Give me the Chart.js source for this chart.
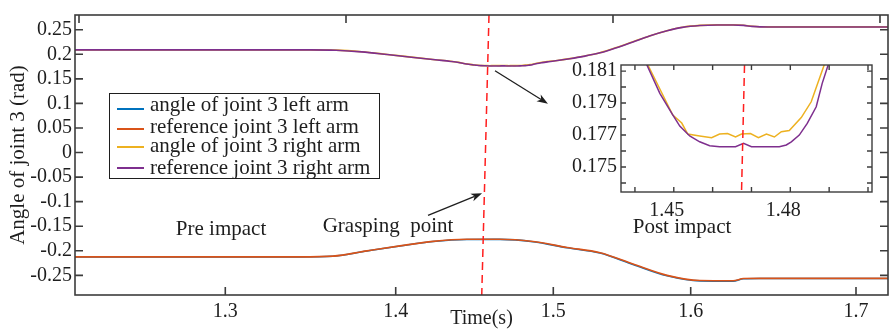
<!DOCTYPE html>
<html>
<head>
<meta charset="utf-8">
<script src="https://cdn.jsdelivr.net/npm/chart.js@4/dist/chart.umd.min.js"></script>
<style>
  body { margin: 0; background: #fff; }
  #wrap { position: relative; width: 889px; height: 335px; }
  #main { position: absolute; left: 0; top: 0; width: 889px; height: 335px; }
  #zoom { position: absolute; left: 540px; top: 40px; width: 345px; height: 190px; }
</style>
</head>
<body>
<div id="wrap">
  <canvas id="main" width="889" height="335"></canvas>
  <canvas id="zoom" width="345" height="190"></canvas>
</div>
<script>
const serif = "'Liberation Serif', 'Times New Roman', serif";
const ink = '#1e1e1e';

const seriesNames = ['angle of joint 3 left arm', 'reference joint 3 left arm',
                     'angle of joint 3 right arm', 'reference joint 3 right arm'];
const seriesColors = ['#0072BD', '#D95319', '#EDB120', '#7E2F8E'];

// left arm, joint 3 (rad) against time (s)
const leftTime = [1.2118, 1.3438, 1.3632, 1.3832, 1.4027, 1.4237, 1.4452, 1.4661, 1.4871,
                  1.5100, 1.5340, 1.5580, 1.5828, 1.6056, 1.6256, 1.6320, 1.6419, 1.7194];
const leftReference = [-0.2123, -0.2123, -0.2109, -0.2001, -0.1900, -0.1808, -0.1766, -0.1764, -0.1811,
                       -0.1932, -0.2040, -0.2270, -0.2500, -0.2605, -0.2610, -0.2565, -0.2561, -0.2561];
const leftAngle = [-0.2123, -0.2124, -0.2111, -0.2004, -0.1904, -0.1812, -0.1770, -0.1768, -0.1815,
                   -0.1938, -0.2047, -0.2278, -0.2508, -0.2613, -0.2617, -0.2570, -0.2564, -0.2563];

// right arm reference, dense around the impact
const rightRefTime = [1.2118, 1.3500, 1.3650, 1.3800, 1.3950, 1.4100, 1.4250, 1.4350, 1.4400,
  1.44308, 1.44641, 1.44949, 1.45154, 1.45410, 1.45667, 1.45923, 1.46179, 1.46590, 1.46795,
  1.47000, 1.47718, 1.47897, 1.48026, 1.48231, 1.48436, 1.48667, 1.48821, 1.48974,
  1.4930, 1.4970, 1.5030, 1.5120, 1.5220, 1.5340, 1.5460, 1.5580, 1.5700, 1.5828, 1.5940,
  1.6056, 1.6160, 1.6256, 1.6320, 1.6370, 1.6419, 1.6500, 1.7194];
const rightReference = [0.2090, 0.2090, 0.2083, 0.2050, 0.1995, 0.1940, 0.1888, 0.1855, 0.1834,
  0.18138, 0.17961, 0.17836, 0.17756, 0.17694, 0.17658, 0.17633, 0.17627, 0.17627, 0.17648,
  0.17627, 0.17627, 0.17638, 0.17658, 0.17700, 0.17773, 0.17877, 0.18023, 0.18138,
  0.1831, 0.1849, 0.1873, 0.1910, 0.1958, 0.2030, 0.2135, 0.2252, 0.2372, 0.2478, 0.2548,
  0.2586, 0.2597, 0.2597, 0.2588, 0.2568, 0.2558, 0.2557, 0.2557];

// right arm measured angle
const rightAngleTime = [1.2118, 1.3500, 1.3650, 1.3800, 1.3950, 1.4100, 1.4250, 1.4350, 1.4400,
  1.44333, 1.44590, 1.44974, 1.45205, 1.45359, 1.45667, 1.45974, 1.46179, 1.46385, 1.46590,
  1.46744, 1.46974, 1.47179, 1.47385, 1.47590, 1.47769, 1.47974, 1.48282, 1.48538, 1.48872,
  1.4920, 1.4960, 1.5030, 1.5120, 1.5220, 1.5340, 1.5460, 1.5580, 1.5700, 1.5828, 1.5940,
  1.6056, 1.6160, 1.6256, 1.6320, 1.6370, 1.6419, 1.6500, 1.7194];
const rightAngle = [0.2091, 0.2091, 0.2085, 0.2052, 0.1997, 0.1942, 0.1890, 0.1857, 0.1836,
  0.18138, 0.18013, 0.17825, 0.17775, 0.17706, 0.17694, 0.17683, 0.17706, 0.17709, 0.17688,
  0.17706, 0.17709, 0.17683, 0.17706, 0.17688, 0.17721, 0.17728, 0.17809, 0.17908, 0.18138,
  0.1833, 0.1852, 0.1875, 0.1912, 0.1960, 0.2032, 0.2137, 0.2254, 0.2374, 0.2480, 0.2550,
  0.2588, 0.2599, 0.2599, 0.2590, 0.2570, 0.2560, 0.2559, 0.2559];

// grasping instant, as drawn in each axes
const graspTimeMain = [1.4592, 1.4546];
const graspAngleMain = [0.28, -0.29];
const graspTimeZoom = [1.46821, 1.46744];
const graspAngleZoom = [0.18138, 0.17344];

// ticks
const timeTicks = [1.3, 1.4, 1.5, 1.6, 1.7];
const angleTicks = [-0.25, -0.2, -0.15, -0.1, -0.05, 0, 0.05, 0.1, 0.15, 0.2, 0.25];
const zoomTimeTicks = [1.44, 1.45, 1.46, 1.47, 1.48, 1.49, 1.50];
const zoomTimeLabels = [1.45, 1.48];
const zoomAngleTicks = [0.174, 0.175, 0.176, 0.177, 0.178, 0.179, 0.180, 0.181];
const zoomAngleLabels = [0.175, 0.177, 0.179, 0.181];

const pts = (xs, ys) => xs.map((x, i) => ({x: x, y: ys[i]}));
const near = (list, v) => list.some(l => Math.abs(l - v) < 1e-6);

// the time axis of the figure is not evenly spaced, so map it piecewise
const warpValues = [1.2118, 1.3, 1.4, 1.5, 1.6, 1.7, 1.7194];
const warpFractions = [0, 0.18487, 0.39447, 0.58831, 0.75732, 0.96064, 1];

function piecewise(v, xs, ys) {
  for (let i = 1; i < xs.length; i++) {
    if (v <= xs[i] || i === xs.length - 1) {
      return ys[i - 1] + (v - xs[i - 1]) * (ys[i] - ys[i - 1]) / (xs[i] - xs[i - 1]);
    }
  }
}

class WarpedTimeScale extends Chart.LinearScale {
  static id = 'warpedTime';
  static defaults = Chart.LinearScale.defaults;
  getPixelForValue(value) {
    return this.getPixelForDecimal(piecewise(value, warpValues, warpFractions));
  }
  getValueForPixel(pixel) {
    return piecewise(this.getDecimalForPixel(pixel), warpFractions, warpValues);
  }
}
Chart.register(WarpedTimeScale);

// box around the axes with inward ticks, MATLAB style
const axesBox = {
  id: 'axesBox',
  beforeDraw(chart, args, opts) {
    if (!opts.fill) return;
    const a = chart.chartArea, ctx = chart.ctx;
    ctx.save();
    ctx.fillStyle = opts.fill;
    ctx.fillRect(a.left, a.top, a.width, a.height);
    ctx.restore();
  },
  afterDraw(chart, args, opts) {
    const {ctx, chartArea: a, scales} = chart;
    const len = opts.tick;
    const bottom = scales.x, top = scales[opts.top], left = scales.y;
    ctx.save();
    ctx.strokeStyle = opts.color;
    ctx.lineWidth = opts.width;
    ctx.beginPath();
    bottom.ticks.forEach((t, i) => {
      const x = bottom.getPixelForTick(i);
      ctx.moveTo(x, a.bottom); ctx.lineTo(x, a.bottom - len);
    });
    top.ticks.forEach((t, i) => {
      const x = top.getPixelForTick(i);
      ctx.moveTo(x, a.top); ctx.lineTo(x, a.top + len);
    });
    left.ticks.forEach((t, i) => {
      const y = left.getPixelForTick(i);
      ctx.moveTo(a.left, y); ctx.lineTo(a.left + len, y);
      ctx.moveTo(a.right, y); ctx.lineTo(a.right - len, y);
    });
    ctx.stroke();
    ctx.strokeRect(a.left, a.top, a.width, a.height);
    ctx.restore();
  }
};

function arrow(ctx, x0, y0, x1, y1) {
  const ang = Math.atan2(y1 - y0, x1 - x0);
  const L = 11, W = 4, back = 8;
  ctx.beginPath();
  ctx.moveTo(x0, y0);
  ctx.lineTo(x1 - Math.cos(ang) * back, y1 - Math.sin(ang) * back);
  ctx.stroke();
  ctx.beginPath();
  ctx.moveTo(x1, y1);
  ctx.lineTo(x1 - Math.cos(ang) * L + Math.sin(ang) * W, y1 - Math.sin(ang) * L - Math.cos(ang) * W);
  ctx.lineTo(x1 - Math.cos(ang) * back, y1 - Math.sin(ang) * back);
  ctx.lineTo(x1 - Math.cos(ang) * L - Math.sin(ang) * W, y1 - Math.sin(ang) * L + Math.cos(ang) * W);
  ctx.closePath();
  ctx.fill();
}

// text labels, arrows and the legend box inside the main axes
const notes = {
  id: 'notes',
  afterDatasetsDraw(chart, args, opts) {
    const {ctx, chartArea: a, scales: {x, y}} = chart;
    ctx.save();
    ctx.fillStyle = ink;
    ctx.strokeStyle = ink;
    ctx.lineWidth = 1.3;
    ctx.font = '21px ' + serif;
    ctx.textAlign = 'center';
    ctx.textBaseline = 'alphabetic';
    opts.labels.forEach(n => ctx.fillText(n.text, x.getPixelForValue(n.at[0]), y.getPixelForValue(n.at[1])));
    opts.arrows.forEach(r => arrow(ctx,
      x.getPixelForValue(r.from[0]), y.getPixelForValue(r.from[1]),
      x.getPixelForValue(r.to[0]), y.getPixelForValue(r.to[1])));

    const bx = a.left + 34, by = a.top + 78, bw = 270, bh = 85;
    const lineAt = [16, 36, 54, 75], textAt = [18, 40, 59, 81];
    ctx.fillStyle = '#fff';
    ctx.fillRect(bx, by, bw, bh);
    ctx.lineWidth = 1;
    ctx.strokeStyle = ink;
    ctx.strokeRect(bx + 0.5, by + 0.5, bw, bh);
    ctx.textAlign = 'left';
    chart.data.datasets.filter(d => seriesNames.includes(d.label)).forEach((d, i) => {
      ctx.strokeStyle = d.borderColor;
      ctx.lineWidth = 2;
      ctx.beginPath();
      ctx.moveTo(bx + 8, by + lineAt[i]);
      ctx.lineTo(bx + 35, by + lineAt[i]);
      ctx.stroke();
      ctx.fillStyle = ink;
      ctx.fillText(d.label, bx + 41, by + textAt[i]);
    });
    ctx.restore();
  }
};

const tickFont = {family: serif, size: 20};
const noGrid = {display: false, drawTicks: false};

const curve = (label, i, data, order) => ({
  label: label, data: data, borderColor: seriesColors[i], borderWidth: 1.6,
  pointRadius: 0, fill: false, order: order, cubicInterpolationMode: 'monotone'
});

new Chart(document.getElementById('main'), {
  type: 'line',
  data: {
    datasets: [
      curve(seriesNames[0], 0, pts(leftTime, leftAngle), 4),
      curve(seriesNames[1], 1, pts(leftTime, leftReference), 3),
      curve(seriesNames[2], 2, pts(rightAngleTime, rightAngle), 2),
      curve(seriesNames[3], 3, pts(rightRefTime, rightReference), 1),
      {label: 'grasp', data: pts(graspTimeMain, graspAngleMain), borderColor: '#ff1f1f',
       borderWidth: 1.5, borderDash: [8, 5], pointRadius: 0, order: 0}
    ]
  },
  options: {
    responsive: false,
    animation: false,
    devicePixelRatio: 1,
    events: [],
    layout: {padding: {top: 14, right: 1, left: 0, bottom: 0}},
    plugins: {
      legend: {display: false},
      tooltip: {enabled: false},
      axesBox: {tick: 8, width: 1.6, color: '#3c3c3c', top: 'xTop'},
      notes: {
        labels: [
          {text: 'Pre impact', at: [1.2975, -0.1683]},
          {text: 'Grasping  point', at: [1.3955, -0.1616]},
          {text: 'Post impact', at: [1.5937, -0.1636]}
        ],
        arrows: [
          {from: [1.4205, -0.1277], to: [1.4548, -0.0831]},
          {from: [1.4630, 0.1664], to: [1.4966, 0.0995]}
        ]
      }
    },
    scales: {
      x: {
        type: 'warpedTime', position: 'bottom', min: 1.2118, max: 1.7194,
        afterBuildTicks: s => { s.ticks = timeTicks.map(v => ({value: v})); },
        afterFit: s => { s.height = 40; },
        grid: noGrid, border: {display: false},
        ticks: {font: tickFont, color: ink, padding: 5, maxRotation: 0, autoSkip: false,
                callback: v => String(v)},
        title: {display: true, text: 'Time(s)', font: {family: serif, size: 20}, color: ink,
                padding: {top: 0, bottom: 4}}
      },
      xTop: {
        type: 'linear', position: 'top', min: -0.015, max: 3.03,
        afterBuildTicks: s => { s.ticks = [0, 1, 2, 3].map(v => ({value: v})); },
        afterFit: s => { s.height = 0; },
        grid: noGrid, border: {display: false}, ticks: {display: false}
      },
      y: {
        type: 'linear', min: -0.29, max: 0.28,
        afterBuildTicks: s => { s.ticks = angleTicks.map(v => ({value: v})); },
        afterFit: s => { s.width = 75; },
        grid: noGrid, border: {display: false},
        ticks: {font: tickFont, color: ink, padding: 3, autoSkip: false, callback: v => String(v)},
        title: {display: true, text: 'Angle of joint 3 (rad)', font: {family: serif, size: 21},
                color: ink, padding: {top: 6, bottom: 0}}
      }
    }
  },
  plugins: [axesBox, notes]
});

// zoomed view around the grasping instant
new Chart(document.getElementById('zoom'), {
  type: 'line',
  data: {
    datasets: [
      {label: seriesNames[2], data: pts(rightAngleTime, rightAngle), borderColor: seriesColors[2],
       borderWidth: 1.5, pointRadius: 0, order: 2},
      {label: seriesNames[3], data: pts(rightRefTime, rightReference), borderColor: seriesColors[3],
       borderWidth: 1.5, pointRadius: 0, order: 1},
      {label: 'grasp', data: pts(graspTimeZoom, graspAngleZoom), borderColor: '#ff1f1f',
       borderWidth: 1.5, borderDash: [8, 5], pointRadius: 0, order: 0}
    ]
  },
  options: {
    responsive: false,
    animation: false,
    devicePixelRatio: 1,
    events: [],
    layout: {padding: {top: 25, right: 13, left: 0, bottom: 0}},
    plugins: {
      legend: {display: false},
      tooltip: {enabled: false},
      axesBox: {tick: 5, width: 1.4, color: '#3c3c3c', top: 'x', fill: '#fff'}
    },
    scales: {
      x: {
        type: 'linear', min: 1.43641, max: 1.50103,
        afterBuildTicks: s => { s.ticks = zoomTimeTicks.map(v => ({value: v})); },
        afterFit: s => { s.height = 38; },
        grid: noGrid, border: {display: false},
        ticks: {font: tickFont, color: ink, padding: 7, labelOffset: -7, maxRotation: 0, autoSkip: false,
                callback: v => near(zoomTimeLabels, v) ? v.toFixed(2) : ''}
      },
      y: {
        type: 'linear', min: 0.17344, max: 0.18138,
        afterBuildTicks: s => { s.ticks = zoomAngleTicks.map(v => ({value: v})); },
        afterFit: s => { s.width = 81; },
        grid: noGrid, border: {display: false},
        ticks: {font: tickFont, color: ink, padding: 4, autoSkip: false,
                callback: v => near(zoomAngleLabels, v) ? v.toFixed(3) : ''}
      }
    }
  },
  plugins: [axesBox]
});
</script>
</body>
</html>
